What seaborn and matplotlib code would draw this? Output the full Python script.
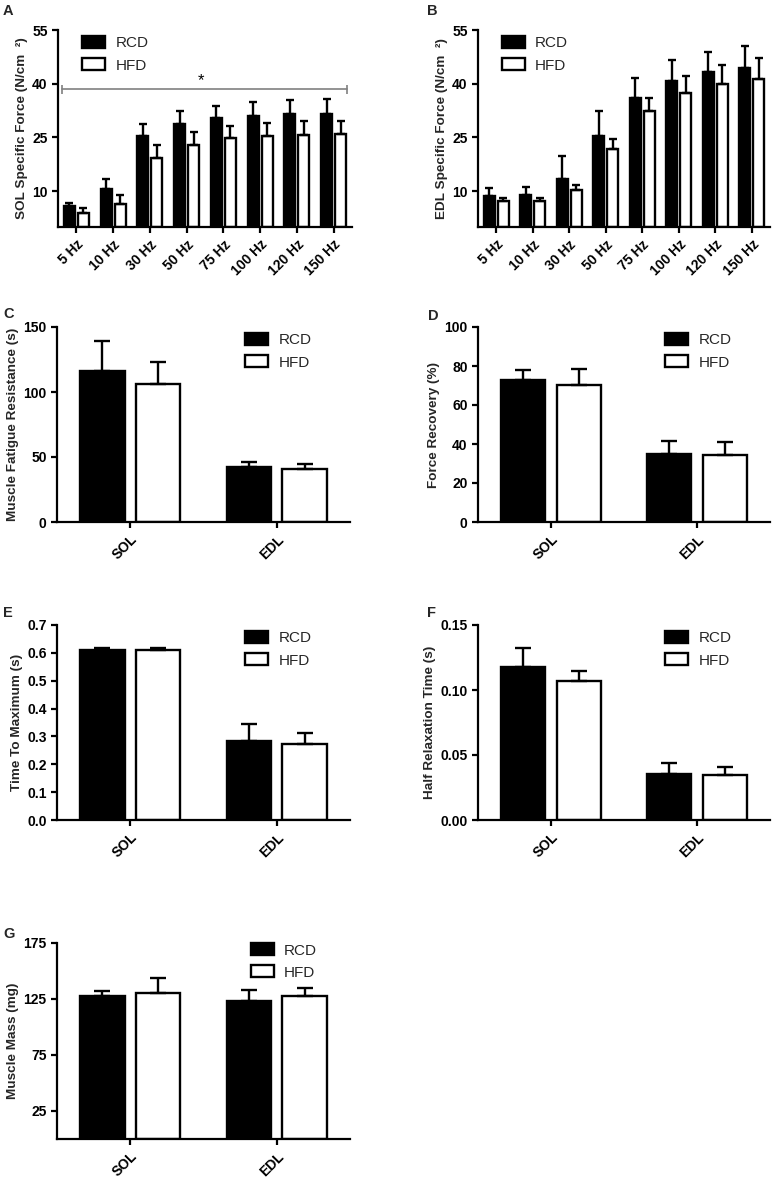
import matplotlib
matplotlib.use('Agg')
import matplotlib.pyplot as plt
from matplotlib.ticker import FormatStrFormatter
import seaborn as sns
import pandas as pd
import numpy as np

# --- data ---
groups = ['RCD', 'HFD']
freqs = ['5 Hz', '10 Hz', '30 Hz', '50 Hz', '75 Hz', '100 Hz', '120 Hz', '150 Hz']
muscles = ['SOL', 'EDL']

sol_rcd = [5.9, 10.6, 25.4, 28.7, 30.3, 31.0, 31.5, 31.5]
sol_rcd_err = [0.8, 2.7, 3.4, 3.6, 3.6, 3.9, 4.0, 4.1]
sol_hfd = [3.9, 6.5, 19.4, 23.0, 24.9, 25.5, 25.8, 25.9]
sol_hfd_err = [1.3, 2.5, 3.4, 3.4, 3.4, 3.6, 3.8, 3.7]

edl_rcd = [8.6, 8.9, 13.5, 25.5, 36.0, 40.9, 43.2, 44.4]
edl_rcd_err = [2.3, 2.4, 6.4, 6.8, 5.6, 5.6, 5.7, 6.2]
edl_hfd = [7.2, 7.3, 10.2, 21.7, 32.3, 37.3, 40.0, 41.3]
edl_hfd_err = [0.8, 0.9, 1.6, 2.8, 3.8, 4.9, 5.2, 6.0]

fatigue_rcd, fatigue_rcd_err = [116, 42.2], [23, 4.3]
fatigue_hfd, fatigue_hfd_err = [106, 41.1], [17, 3.6]
recovery_rcd, recovery_rcd_err = [72.7, 35.1], [5.2, 6.6]
recovery_hfd, recovery_hfd_err = [70.2, 34.6], [8.2, 6.6]
ttm_rcd, ttm_rcd_err = [0.610, 0.284], [0.009, 0.061]
ttm_hfd, ttm_hfd_err = [0.610, 0.273], [0.006, 0.038]
hrt_rcd, hrt_rcd_err = [0.118, 0.0356], [0.014, 0.008]
hrt_hfd, hrt_hfd_err = [0.107, 0.0349], [0.008, 0.0059]
mass_rcd, mass_rcd_err = [127.7, 123.0], [4.8, 10.4]
mass_hfd, mass_hfd_err = [130.7, 128.0], [12.8, 6.8]

# significance bracket in panel A
sig_span = [-0.4, 7.36]
sig_y = 38.4
sig_star = (3.4, 39.6)

sns.set_style('ticks')
plt.rcParams['font.family'] = ['Liberation Sans', 'DejaVu Sans']
plt.rcParams['axes.linewidth'] = 1.6
plt.rcParams['xtick.major.width'] = 1.6
plt.rcParams['ytick.major.width'] = 1.6
plt.rcParams['xtick.major.size'] = 4
plt.rcParams['ytick.major.size'] = 4
plt.rcParams['xtick.color'] = 'black'
plt.rcParams['ytick.color'] = 'black'
plt.rcParams['axes.edgecolor'] = 'black'


def panel(ax, cats, rcd, rcd_err, hfd, hfd_err, ylabel, ylim, yticks,
          fmt=None, capsize=6, leg_x=0.62, leg_y=1.0):
    df = pd.DataFrame({
        'cat': list(cats) * 2,
        'diet': ['RCD'] * len(cats) + ['HFD'] * len(cats),
        'value': list(rcd) + list(hfd),
    })
    sns.barplot(data=df, x='cat', y='value', hue='diet', order=cats,
                hue_order=groups, palette=['black', 'white'], saturation=1,
                edgecolor='black', linewidth=1.7, width=0.76, gap=0.2,
                errorbar=None, legend=False, ax=ax)
    for cont, err in zip(ax.containers, [rcd_err, hfd_err]):
        xs = [b.get_x() + b.get_width() / 2 for b in cont]
        ys = [b.get_height() for b in cont]
        ax.errorbar(xs, ys, yerr=[np.zeros(len(err)), err], fmt='none',
                    ecolor='black', elinewidth=1.7, capsize=capsize,
                    capthick=1.7, zorder=3)
    ax.set_xlim(-0.5, len(cats) - 0.5)
    ax.set_ylim(*ylim)
    ax.set_yticks(yticks)
    if fmt:
        ax.yaxis.set_major_formatter(FormatStrFormatter(fmt))
    ax.set_xlabel('')
    ax.set_ylabel(ylabel, fontsize=9.7, fontweight='bold', labelpad=3)
    ax.tick_params(axis='both', labelsize=10)
    for lab in ax.get_yticklabels():
        lab.set_fontweight('bold')
    ax.set_xticks(range(len(cats)))
    ax.set_xticklabels(cats, rotation=45, ha='right', rotation_mode='anchor',
                       fontweight='bold')
    sns.despine(ax=ax)
    ax.legend(ax.containers, groups, loc='upper left',
              bbox_to_anchor=(leg_x, leg_y), frameon=False, fontsize=11,
              handlelength=1.5, handleheight=0.85, handletextpad=0.7,
              labelspacing=0.5, borderaxespad=0)


fig = plt.figure(figsize=(7.76, 11.84), dpi=100)
W, H = 776, 1184


def add_axes(x0, x1, y0, y1):
    return fig.add_axes([x0 / W, 1 - y1 / H, (x1 - x0) / W, (y1 - y0) / H])


axA = add_axes(58, 352, 30, 227)
axB = add_axes(478, 770, 30, 227)
axC = add_axes(57, 350, 327, 522)
axD = add_axes(478, 770, 327, 522)
axE = add_axes(57, 350, 625, 820)
axF = add_axes(478, 770, 625, 820)
axG = add_axes(57, 350, 943, 1139)

panel(axA, freqs, sol_rcd, sol_rcd_err, sol_hfd, sol_hfd_err,
      'SOL Specific Force (N/cm  ²)', (0, 55), [10, 25, 40, 55], capsize=3,
      leg_x=0.06)
axA.plot(sig_span, [sig_y, sig_y], color='#808080', lw=1.2)
axA.vlines(sig_span, sig_y - 1.2, sig_y + 1.2, color='#808080', lw=1.2)
axA.text(sig_star[0], sig_star[1], '*', ha='center', va='baseline',
         fontsize=12, color='black')

panel(axB, freqs, edl_rcd, edl_rcd_err, edl_hfd, edl_hfd_err,
      'EDL Specific Force (N/cm  ²)', (0, 55), [10, 25, 40, 55], capsize=3,
      leg_x=0.06)
panel(axC, muscles, fatigue_rcd, fatigue_rcd_err, fatigue_hfd, fatigue_hfd_err,
      'Muscle Fatigue Resistance (s)', (0, 150), [0, 50, 100, 150])
panel(axD, muscles, recovery_rcd, recovery_rcd_err, recovery_hfd, recovery_hfd_err,
      'Force Recovery (%)', (0, 100), [0, 20, 40, 60, 80, 100])
panel(axE, muscles, ttm_rcd, ttm_rcd_err, ttm_hfd, ttm_hfd_err,
      'Time To Maximum (s)', (0, 0.7), np.arange(0, 0.71, 0.1), fmt='%.1f')
panel(axF, muscles, hrt_rcd, hrt_rcd_err, hrt_hfd, hrt_hfd_err,
      'Half Relaxation Time (s)', (0, 0.15), [0, 0.05, 0.10, 0.15], fmt='%.2f')
panel(axG, muscles, mass_rcd, mass_rcd_err, mass_hfd, mass_hfd_err,
      'Muscle Mass (mg)', (0, 175), [25, 75, 125, 175], leg_x=0.64,
      leg_y=1.03)

letters = [('A', 3, 4), ('B', 427, 4), ('C', 3, 307), ('D', 428, 309),
           ('E', 3, 606), ('F', 427, 606), ('G', 3, 927)]
for lab, x, y in letters:
    fig.text(x / W, 1 - y / H, lab, fontsize=10.5, fontweight='bold',
             va='top', ha='left')

fig.savefig('out.png', dpi=100)
